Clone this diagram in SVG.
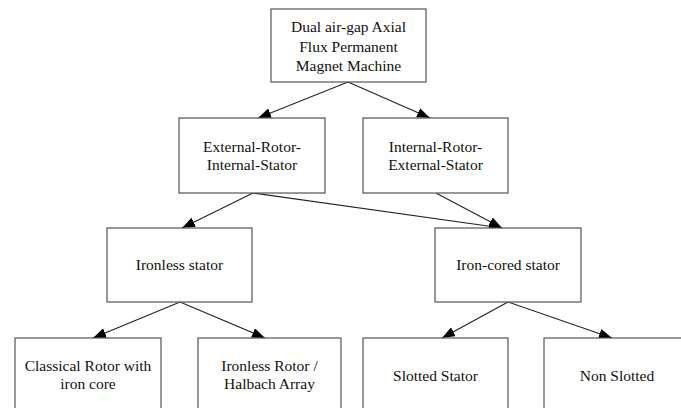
<svg xmlns="http://www.w3.org/2000/svg" width="681" height="408" viewBox="0 0 681 408">
<style>
.box{fill:#fff;stroke:#555;stroke-width:1.2}
.t{font-family:'Liberation Serif','Times New Roman',Times,'DejaVu Serif',serif;font-size:15.5px;fill:#111;text-anchor:middle}
.c{stroke:#222;stroke-width:1.1;fill:none;marker-end:url(#ah)}
</style>
<defs>
<marker id="ah" markerWidth="13" markerHeight="10" refX="13" refY="5" orient="auto" markerUnits="userSpaceOnUse">
<path d="M0,0 L13,5 L0,10 Z" fill="#000"/>
</marker>
</defs>
<rect width="681" height="408" fill="#fff"/>
<g id="connectors">
<line class="c" x1="348" y1="82" x2="258" y2="118"/>
<line class="c" x1="348" y1="82" x2="430" y2="118"/>
<line class="c" x1="253" y1="193" x2="182" y2="228"/>
<line class="c" x1="253" y1="193" x2="502" y2="228"/>
<line class="c" x1="436" y1="193" x2="502" y2="228"/>
<line class="c" x1="180" y1="302" x2="93" y2="338"/>
<line class="c" x1="180" y1="302" x2="265" y2="338"/>
<line class="c" x1="508" y1="302" x2="442" y2="338"/>
<line class="c" x1="508" y1="302" x2="612" y2="338"/>
</g>
<g id="root">
<rect class="box" x="271" y="9" width="155" height="73"/>
<text class="t" x="348.5" y="32">Dual air-gap Axial</text>
<text class="t" x="348.5" y="51.5">Flux Permanent</text>
<text class="t" x="348.5" y="71">Magnet Machine</text>
</g>
<g id="ext-rotor">
<rect class="box" x="179" y="118" width="146" height="75"/>
<text class="t" x="252" y="151.5">External-Rotor-</text>
<text class="t" x="252" y="170">Internal-Stator</text>
</g>
<g id="int-rotor">
<rect class="box" x="363" y="118" width="145" height="75"/>
<text class="t" x="435.5" y="151.5">Internal-Rotor-</text>
<text class="t" x="435.5" y="170">External-Stator</text>
</g>
<g id="ironless-stator">
<rect class="box" x="107" y="228" width="145" height="74"/>
<text class="t" x="179.5" y="270">Ironless stator</text>
</g>
<g id="iron-cored-stator">
<rect class="box" x="435" y="228" width="146" height="74"/>
<text class="t" x="508" y="270">Iron-cored stator</text>
</g>
<g id="classical-rotor">
<rect class="box" x="15" y="338" width="146" height="80"/>
<text class="t" x="88" y="371">Classical Rotor with</text>
<text class="t" x="88" y="389">iron core</text>
</g>
<g id="ironless-rotor">
<rect class="box" x="198" y="338" width="143" height="80"/>
<text class="t" x="269.5" y="371">Ironless Rotor /</text>
<text class="t" x="269.5" y="389">Halbach Array</text>
</g>
<g id="slotted">
<rect class="box" x="363" y="338" width="145" height="80"/>
<text class="t" x="435.5" y="381">Slotted Stator</text>
</g>
<g id="non-slotted">
<rect class="box" x="544" y="338" width="146" height="80"/>
<text class="t" x="617" y="381">Non Slotted</text>
</g>
</svg>
